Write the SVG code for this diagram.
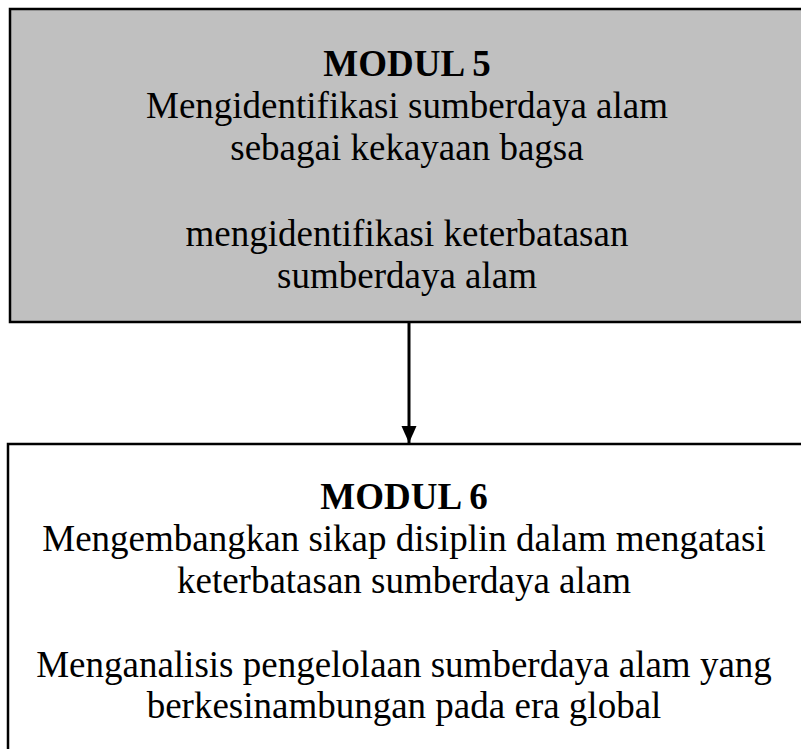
<svg xmlns="http://www.w3.org/2000/svg" width="801" height="749" viewBox="0 0 801 749">
<defs>
<style>
.box{stroke:#000;stroke-width:2.5}
.t{font-family:"Liberation Serif","Times New Roman",serif;font-size:37px;fill:#000;text-anchor:middle}
.b{font-weight:bold}
</style>
<marker id="ah" markerWidth="18" markerHeight="16" refX="17" refY="8" orient="auto" markerUnits="userSpaceOnUse" viewBox="0 0 18 16">
<path d="M0,0.5 L17,8 L0,15.5 z" fill="#000"/>
</marker>
</defs>
<rect width="801" height="749" fill="#fff"/>
<g id="modul5">
<rect class="box" x="10" y="9" width="800" height="313" fill="#c0c0c0"/>
<text class="t b" x="407" y="76">MODUL 5</text>
<text class="t" x="407" y="118">Mengidentifikasi sumberdaya alam</text>
<text class="t" x="407" y="160">sebagai kekayaan bagsa</text>
<text class="t" x="407" y="246">mengidentifikasi keterbatasan</text>
<text class="t" x="407" y="288">sumberdaya alam</text>
</g>
<g id="connectors">
<line x1="409" y1="323" x2="409" y2="443" stroke="#000" stroke-width="3" marker-end="url(#ah)"/>
</g>
<g id="modul6">
<rect class="box" x="8" y="444" width="800" height="320" fill="#fff"/>
<text class="t b" x="404" y="509">MODUL 6</text>
<text class="t" x="404" y="551">Mengembangkan sikap disiplin dalam mengatasi</text>
<text class="t" x="404" y="593">keterbatasan sumberdaya alam</text>
<text class="t" x="404" y="677">Menganalisis pengelolaan sumberdaya alam yang</text>
<text class="t" x="404" y="718">berkesinambungan pada era global</text>
</g>
</svg>
